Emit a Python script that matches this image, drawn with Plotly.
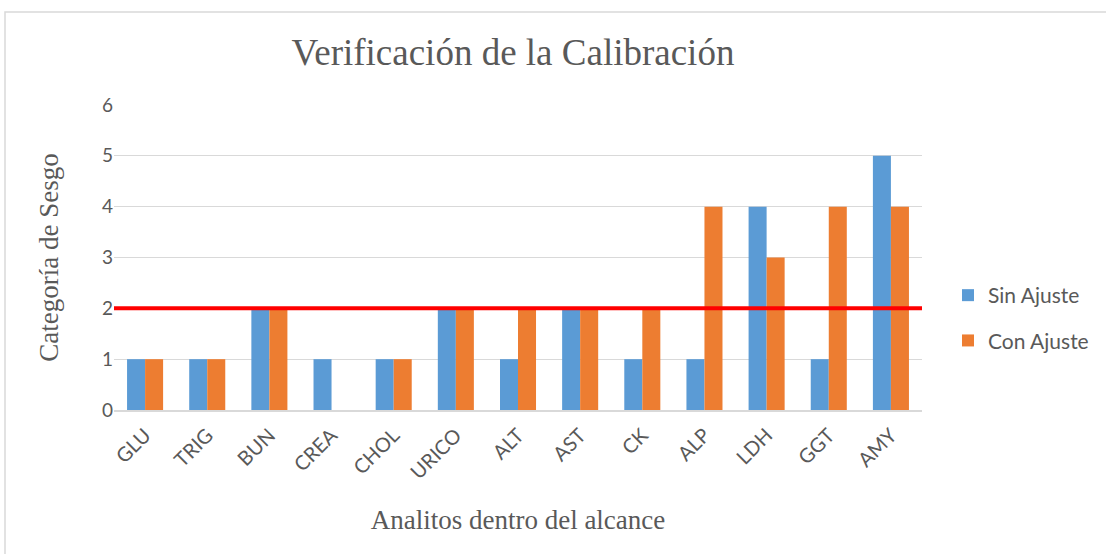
import plotly.graph_objects as go

categories = ["GLU", "TRIG", "BUN", "CREA", "CHOL", "URICO", "ALT", "AST", "CK", "ALP", "LDH", "GGT", "AMY"]
sin_ajuste = [1, 1, 2, 1, 1, 2, 1, 2, 1, 1, 4, 1, 5]
con_ajuste = [1, 1, 2, 0, 1, 2, 2, 2, 2, 4, 3, 4, 4]
threshold = 2
y_ticks = [0, 1, 2, 3, 4, 5, 6]

W, H = 1106, 554
L, R, T, B = 114, 184, 105, 144
pw = W - L - R
ph = H - T - B

fig = go.Figure()
fig.add_trace(go.Bar(x=categories, y=sin_ajuste, name="Sin Ajuste", marker_color="#5B9BD5",
                     marker_line_width=0, legendgroup="a"))
fig.add_trace(go.Bar(x=categories, y=con_ajuste, name="Con Ajuste", marker_color="#ED7D31",
                     marker_line_width=0, legendgroup="b"))

fig.add_shape(type="line", xref="paper", yref="y", x0=0, x1=1, y0=threshold, y1=threshold,
              line=dict(color="#FF0000", width=4), layer="above")

def px_x(p):
    return (p - L) / pw

def px_y(p):
    return (H - B - p) / ph

fig.add_shape(type="rect", xref="paper", yref="paper",
              x0=px_x(5), x1=px_x(1112), y0=px_y(12), y1=px_y(560),
              line=dict(color="#D9D9D9", width=1.5), fillcolor="rgba(0,0,0,0)", layer="below")

tick_font = dict(family="Lato, Carlito, Open Sans, sans-serif", size=19, color="#595959")
xtick_font = dict(family="Lato, Carlito, Open Sans, sans-serif", size=20, color="#595959")
legend_font = dict(family="Lato, Carlito, Open Sans, sans-serif", size=21, color="#595959")
serif = "Liberation Serif, Times New Roman, serif"

fig.update_layout(
    width=W, height=H,
    margin=dict(l=L, r=R, t=T, b=B, autoexpand=False),
    paper_bgcolor="white", plot_bgcolor="white",
    barmode="group", bargap=0.42, bargroupgap=0,
    title=dict(text="Verificación de la Calibración", x=513 / W, xref="container", xanchor="center",
               y=1 - 52 / H, yref="container", yanchor="middle",
               font=dict(family=serif, size=37, color="#595959")),
    xaxis=dict(tickfont=xtick_font, tickangle=-45, showgrid=False, showline=True,
               linecolor="#D9D9D9", linewidth=1.5, ticks="", ticklabelstandoff=4,
               title=dict(text="Analitos dentro del alcance", font=dict(family=serif, size=27, color="#595959"),
                          standoff=28)),
    yaxis=dict(range=[0, 6], tickvals=y_ticks, tickfont=tick_font, showgrid=True, gridcolor="#D9D9D9",
               gridwidth=1, zeroline=False, showline=False, ticks="",
               title=dict(text="Categoría de Sesgo", font=dict(family=serif, size=27, color="#595959"),
                          standoff=35)),
    legend=dict(x=px_x(948), y=px_y(318), xanchor="left", yanchor="middle", font=legend_font,
                tracegroupgap=15, bgcolor="rgba(0,0,0,0)"),
)

fig.write_html("out.html", config={"displayModeBar": False},
               post_script="document.body.style.margin='0';")
